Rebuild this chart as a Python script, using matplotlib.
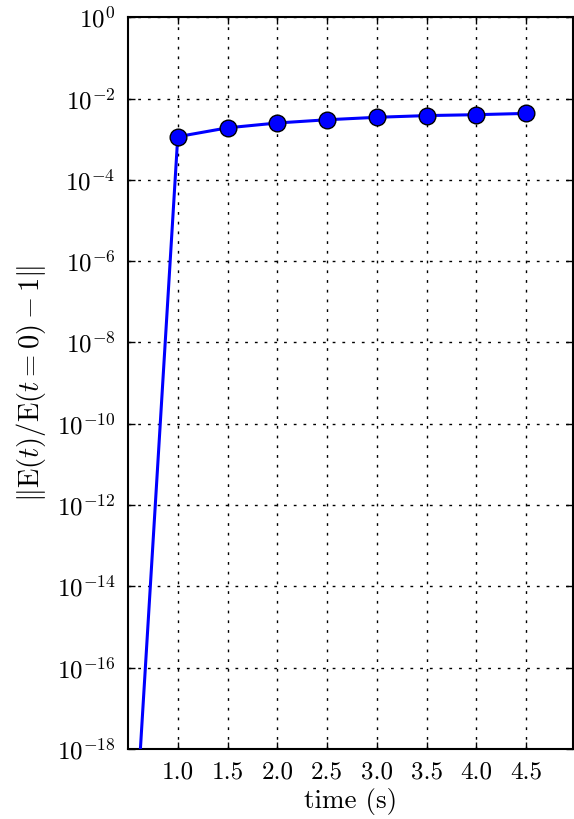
import numpy as np
import matplotlib
matplotlib.use('Agg')
import matplotlib.pyplot as plt
from matplotlib.ticker import LogLocator, NullLocator

plt.rcParams['font.family'] = 'serif'
plt.rcParams['font.serif'] = ['cmr10', 'DejaVu Serif']
plt.rcParams['mathtext.fontset'] = 'cm'
plt.rcParams['axes.formatter.use_mathtext'] = True

# energy error vs time
time_s = [0.5, 1.0, 1.5, 2.0, 2.5, 3.0, 3.5, 4.0, 4.5]
energy_err = [1e-23, 1.15e-3, 1.9e-3, 2.5e-3, 3.0e-3, 3.45e-3, 3.8e-3, 4.0e-3, 4.3e-3]
xticks = [1.0, 1.5, 2.0, 2.5, 3.0, 3.5, 4.0, 4.5]

fig = plt.figure(figsize=(5.74, 8.19), dpi=100)
ax = fig.add_axes([0.223, 0.0855, 0.775, 0.8935])

ax.plot(time_s, energy_err, '-', color='blue', lw=2.2, zorder=3)
ax.plot(time_s[1:], energy_err[1:], 'o', color='blue', markeredgecolor='black',
        markeredgewidth=1, markersize=12, zorder=4)

ax.set_yscale('log')
ax.set_xlim(0.5, 4.97)
ax.set_ylim(1e-18, 1e0)
ax.set_xticks(xticks)
ax.set_xticklabels(['%.1f' % t for t in xticks])
ax.yaxis.set_major_locator(LogLocator(base=100.0))
ax.yaxis.set_minor_locator(NullLocator())

ax.grid(True, color='black', linestyle=(0, (2, 5)), linewidth=1)
ax.tick_params(direction='in', top=True, right=True, length=5, width=1,
               labelsize=18, pad=9)
for sp in ax.spines.values():
    sp.set_linewidth(1.5)

ax.set_xlabel('time (s)', fontsize=19.5, labelpad=3)
ax.set_ylabel(r'$\|\mathrm{E}(t)/\mathrm{E}(t=0)-1\|$', fontsize=20.5, labelpad=6)

fig.savefig('out.png', dpi=100)
